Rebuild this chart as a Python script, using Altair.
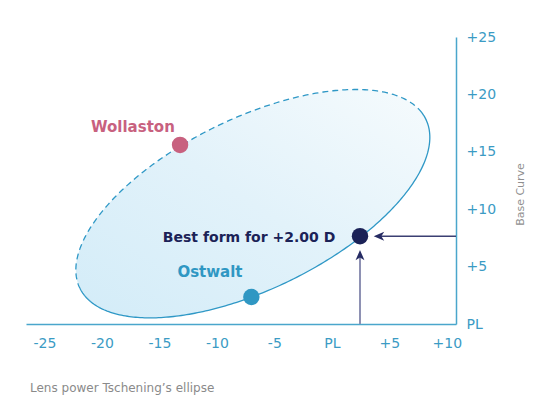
import altair as alt
import numpy as np
import pandas as pd

# ---------------- data ----------------
x_ticks = [-25, -20, -15, -10, -5, 0, 5, 10]
y_ticks = [0, 5, 10, 15, 20, 25]
x_domain = [-26.6, 10.8]
y_domain = [0, 25]

point_names = ["Wollaston", "Ostwalt", "Best form for +2.00 D"]
point_x = [-13.2, -7.0, 2.45]
point_y = [15.6, 2.35, 7.65]

label_x = [-17.3, -10.6, 0.3]
label_y = [17.2, 4.5, 7.45]

# Tschening ellipse (centre, semi-axes, tilt in degrees)
ell_cx, ell_cy = -6.87, 10.48
ell_a, ell_b = 16.75, 7.44
ell_angle = 26.1
solid_from, solid_to = 180.0, 365.0   # parameter range drawn solid (rest dashed)

# arrows pointing at the best-form point
arrow_h_y = 7.65
arrow_h_from, arrow_h_to = 10.8, 4.1
arrow_v_x = 2.45
arrow_v_from, arrow_v_to = 0.0, 6.0

caption = "Lens power Tschening\u2019s ellipse"

# ---------------- derived tables ----------------
th = np.radians(ell_angle)


def ell_pt(t_deg):
    t = np.radians(t_deg)
    x = ell_cx + ell_a * np.cos(t) * np.cos(th) - ell_b * np.sin(t) * np.sin(th)
    y = ell_cy + ell_a * np.cos(t) * np.sin(th) + ell_b * np.sin(t) * np.cos(th)
    return x, y


t_solid = np.linspace(solid_from, solid_to, 200)
xs, ys = ell_pt(t_solid)
solid_df = pd.DataFrame({"x": xs, "y": ys, "i": np.arange(len(xs))})
t_dash = np.linspace(solid_to - 360, solid_from, 200)
xd, yd = ell_pt(t_dash)
dash_df = pd.DataFrame({"x": xd, "y": yd, "i": np.arange(len(xd))})

# filled area: for each x the lower and upper y of the ellipse
W = np.sqrt(ell_a**2 * np.cos(th)**2 + ell_b**2 * np.sin(th)**2)
s = np.linspace(np.pi, 0, 300)
dx = W * np.cos(s) * 0.99999
A = np.sin(th)**2 / ell_a**2 + np.cos(th)**2 / ell_b**2
B = 2 * dx * np.sin(th) * np.cos(th) * (1 / ell_a**2 - 1 / ell_b**2)
C = dx**2 * (np.cos(th)**2 / ell_a**2 + np.sin(th)**2 / ell_b**2) - 1
disc = np.sqrt(np.maximum(B**2 - 4 * A * C, 0))
area_df = pd.DataFrame({
    "x": ell_cx + dx,
    "lo": ell_cy + (-B - disc) / (2 * A),
    "hi": ell_cy + (-B + disc) / (2 * A),
})

pts_df = pd.DataFrame({"name": point_names, "x": point_x, "y": point_y})
lab_df = pd.DataFrame({"name": point_names, "x": label_x, "y": label_y})

# ---------------- chart ----------------
FONT = "DejaVu Sans"
xs_scale = alt.Scale(domain=x_domain, nice=False, zero=False)
ys_scale = alt.Scale(domain=y_domain, nice=False, zero=False)

label_expr = "datum.value == 0 ? 'PL' : (datum.value > 0 ? '+' + datum.value : '' + datum.value)"

x_axis = alt.Axis(values=x_ticks, labelExpr=label_expr, title=None, grid=False,
                  ticks=False, tickSize=0, domainColor="#4aa6cc", domainWidth=1.5,
                  labelColor="#3b9bc4", labelFontSize=14, labelFont=FONT,
                  labelPadding=12, labelFlush=False)
y_axis = alt.Axis(values=y_ticks, labelExpr=label_expr, orient="right", title="Base Curve",
                  grid=False, ticks=False, tickSize=0, domainColor="#4aa6cc", domainWidth=1.5,
                  labelColor="#3b9bc4", labelFontSize=14, labelFont=FONT, labelPadding=10,
                  labelAlign="left", labelFlush=False,
                  titleAngle=270, titleX=64, titleY=157, titleAlign="center",
                  titleBaseline="middle", titleColor="#8f8f8f", titleFontSize=11,
                  titleFont=FONT, titleFontWeight="normal")

X = alt.X("x:Q", scale=xs_scale, axis=x_axis)
Y = alt.Y("y:Q", scale=ys_scale, axis=y_axis)

grad = alt.LinearGradient(
    gradient="linear",
    stops=[alt.GradientStop(color="#d3ecf8", offset=0),
           alt.GradientStop(color="#e2f2fa", offset=0.5),
           alt.GradientStop(color="#f6fbfd", offset=1)],
    x1=0, y1=1, x2=1, y2=0,
)

area = alt.Chart(area_df).mark_area(fill=grad, opacity=1, interpolate="linear").encode(
    x=alt.X("x:Q", scale=xs_scale, axis=x_axis),
    y=alt.Y("lo:Q", scale=ys_scale, axis=y_axis),
    y2="hi:Q")

solid = alt.Chart(solid_df).mark_line(color="#2f98c6", strokeWidth=1.3).encode(
    x=X, y=Y, order="i:Q")
dashed = alt.Chart(dash_df).mark_line(color="#2f98c6", strokeWidth=1.3,
                                      strokeDash=[6, 4]).encode(x=X, y=Y, order="i:Q")

h_rule = alt.Chart(pd.DataFrame({"x": [arrow_h_from], "x2": [arrow_h_to], "y": [arrow_h_y]})) \
    .mark_rule(color="#3b3f72", strokeWidth=1.5).encode(x=X, x2="x2:Q", y=Y)
v_rule = alt.Chart(pd.DataFrame({"x": [arrow_v_x], "y": [arrow_v_from], "y2": [arrow_v_to]})) \
    .mark_rule(color="#8e91b3", strokeWidth=2).encode(x=X, y=Y, y2="y2:Q")

h_head = alt.Chart(pd.DataFrame({"x": [arrow_h_to], "y": [arrow_h_y]})).mark_point(
    shape="M-1,0L1,-0.85L0.45,0L1,0.85Z", filled=True, opacity=1, size=110,
    color="#262b63", strokeWidth=0).encode(x=X, y=Y)
v_head = alt.Chart(pd.DataFrame({"x": [arrow_v_x], "y": [arrow_v_to]})).mark_point(
    shape="M0,-1L0.85,1L0,0.45L-0.85,1Z", filled=True, opacity=1, size=110,
    color="#262b63", strokeWidth=0).encode(x=X, y=Y)

color_scale = alt.Scale(domain=point_names, range=["#c8617f", "#2f97c3", "#1b2257"])

dots = alt.Chart(pts_df).mark_circle(size=270, opacity=1).encode(
    x=X, y=Y, color=alt.Color("name:N", scale=color_scale, legend=None))

labels_c = alt.Chart(lab_df[lab_df.name != point_names[2]]).mark_text(
    align="center", baseline="middle", fontSize=15, font=FONT, fontWeight=600).encode(
    x=X, y=Y, text="name:N", color=alt.Color("name:N", scale=color_scale, legend=None))
labels_r = alt.Chart(lab_df[lab_df.name == point_names[2]]).mark_text(
    align="right", baseline="middle", fontSize=14, font=FONT, fontWeight=600).encode(
    x=X, y=Y, text="name:N", color=alt.Color("name:N", scale=color_scale, legend=None))

cap = alt.Chart(pd.DataFrame({"t": [caption]})).mark_text(
    align="left", baseline="middle", fontSize=12, font=FONT, color="#8a8a8a").encode(
    x=alt.value(4), y=alt.value(351), text="t:N")

chart = alt.layer(area, solid, dashed, h_rule, v_rule, h_head, v_head, dots,
                  labels_c, labels_r, cap).properties(
    width=430, height=287,
    background="white",
    autosize=alt.AutoSizeParams(type="none"),
    padding={"left": 18, "top": 29, "right": 80, "bottom": 75},
).configure_view(strokeWidth=0, stroke=None)

chart.save("out.html", embed_options={"renderer": "svg", "actions": False})
